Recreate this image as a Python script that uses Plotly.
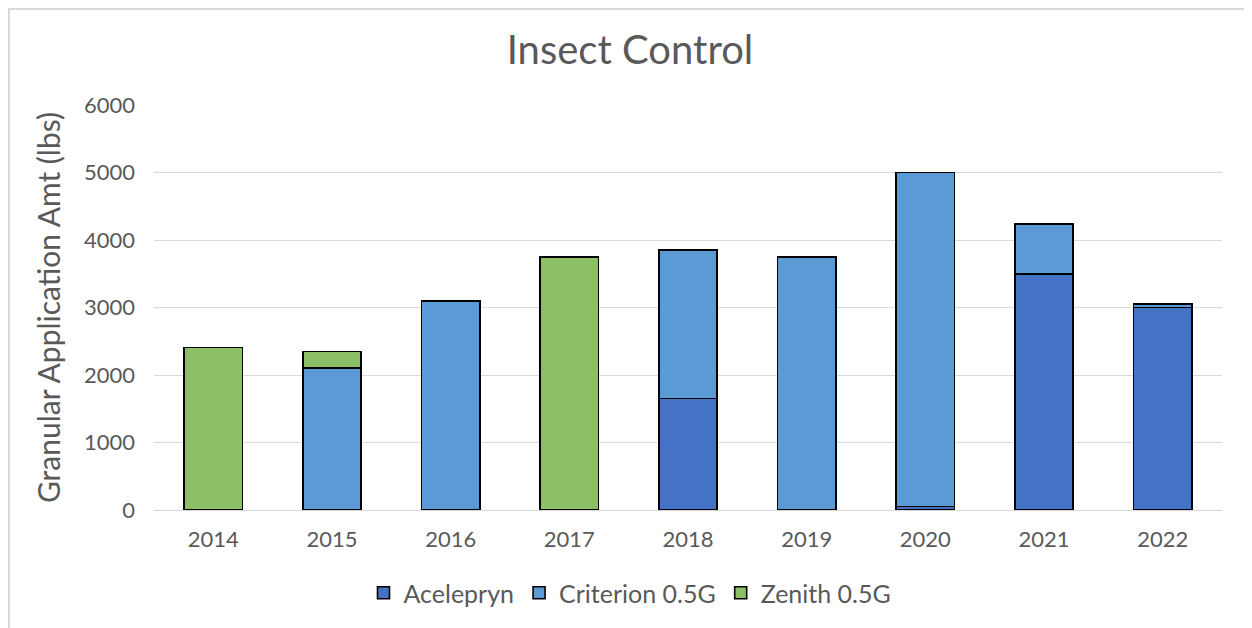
import plotly.graph_objects as go

years = ["2014", "2015", "2016", "2017", "2018", "2019", "2020", "2021", "2022"]
acelepryn = [None, None, None, None, 1650, None, 50, 3500, 3000]
criterion = [None, 2100, 3100, None, 2200, 3750, 4950, 740, 50]
zenith = [2410, 250, None, 3750, None, None, None, None, None]

FONT = "Lato"
GRAY = "#595959"
W, H = 1244, 620
L, R, T, B = 146, 30, 97, 118
PW, PH = W - L - R, H - T - B

fig = go.Figure()
for name, vals, col in [("Acelepryn", acelepryn, "#4472C4"),
                        ("Criterion 0.5G", criterion, "#5B9BD5"),
                        ("Zenith 0.5G", zenith, "#8CC066")]:
    fig.add_trace(go.Bar(x=years, y=vals, name=name,
                         marker=dict(color=col, line=dict(color="black", width=1.6))))

fig.update_layout(
    barmode="stack",
    bargap=0.51,
    width=W, height=H,
    margin=dict(l=L, r=R, t=T, b=B),
    paper_bgcolor="white", plot_bgcolor="white",
    font=dict(family=FONT, color=GRAY, size=22),
    title=dict(text="Insect Control", x=0.5, xanchor="center", y=1 - 42 / H, yanchor="middle",
               font=dict(size=40, color=GRAY, family=FONT)),
    xaxis=dict(showgrid=False, showline=True, linecolor="#d9d9d9", linewidth=1,
               tickfont=dict(size=22, color=GRAY), ticks="", ticklabelstandoff=10),
    yaxis=dict(range=[0, 6000], dtick=1000, showgrid=True, gridcolor="#d9d9d9", gridwidth=1,
               zeroline=False, ticks="", tickfont=dict(size=22, color=GRAY),
               ticklabelstandoff=18,
               title=dict(text="Granular Application Amt (lbs)", font=dict(size=30, color=GRAY),
                          standoff=14)),
    legend=dict(orientation="h", x=(W / 2 - L) / PW, xanchor="center",
                y=(T + PH - 585) / PH, yanchor="middle", itemwidth=30,
                font=dict(size=25, color=GRAY), traceorder="normal"),
    showlegend=True,
    shapes=[dict(type="rect", xref="paper", yref="paper",
                 x0=(1 - L) / PW, x1=(W + 50 - L) / PW,
                 y0=-1.0, y1=(T + PH - 1) / PH,
                 line=dict(color="#d9d9d9", width=2), layer="below")],
)

fig.write_html("out.html")
